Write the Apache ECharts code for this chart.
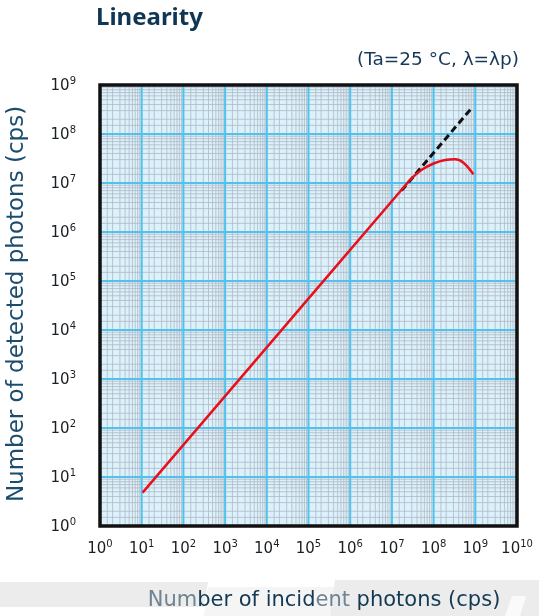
<!DOCTYPE html>
<html>
<head>
<meta charset="utf-8">
<script src="https://cdn.jsdelivr.net/npm/echarts@6/dist/echarts.min.js"></script>
<style>
html,body{margin:0;padding:0;background:#fff;}
#chart{width:539px;height:616px;}
</style>
</head>
<body>
<div id="chart"></div>
<script>
// ---- data ----
const xTickExponents = [0,1,2,3,4,5,6,7,8,9,10];
const yTickExponents = [0,1,2,3,4,5,6,7,8,9];
// detected photons vs incident photons (cps), red curve
const incidentRed = [10.5, 1.9e7, 3.0e7, 5.2e7, 1.0e8, 1.9e8, 3.3e8, 5.2e8, 9.0e8];
const detectedRed = [4.8, 8.1e6, 1.26e7, 1.86e7, 2.5e7, 2.95e7, 3.05e7, 2.6e7, 1.5e7];
// ideal linear extrapolation, dashed black
const incidentIdeal = [1.7e7, 8.7e8];
const detectedIdeal = [7.0e6, 3.6e8];
// minor grid multipliers per decade
const minorSteps = [1.5, 2, 3, 4, 5, 6, 7, 8, 9];

const powLabel = v => '{b|10}{s|' + Math.round(Math.log10(v)) + '}';
const labelRich = {
  b: {fontFamily: "'DejaVu Sans', sans-serif", fontSize: 15, color: '#1a1f24', lineHeight: 18, verticalAlign: 'bottom'},
  s: {fontFamily: "'DejaVu Sans', sans-serif", fontSize: 10, color: '#1a1f24', lineHeight: 18, verticalAlign: 'top', padding: [0, 0, 7, 0]}
};

// grid-line items: [x, y, kind]  kind 0=v minor,1=h minor,2=v major,3=h major,4=frame
const gridItems = [];
xTickExponents.forEach(e => {
  if (e < 10) minorSteps.forEach(m => gridItems.push([m * Math.pow(10, e), 10, 0]));
});
yTickExponents.forEach(e => {
  if (e < 9) minorSteps.forEach(m => gridItems.push([10, m * Math.pow(10, e), 1]));
});
xTickExponents.forEach(e => gridItems.push([Math.pow(10, e), 10, 2]));
yTickExponents.forEach(e => gridItems.push([10, Math.pow(10, e), 3]));
gridItems.push([10, 10, 4]);

const navy = '#0f3655';

const chart = echarts.init(document.getElementById('chart'), null, {renderer: 'canvas'});
chart.setOption({
  animation: false,
  backgroundColor: '#ffffff',
  graphic: [
    {type: 'polygon', z: -10, shape: {points: [[0,582],[208,582],[204,607],[0,607]]}, style: {fill: '#ececec'}},
    {type: 'polygon', z: -10, shape: {points: [[208,587],[335,587],[330,616],[204,616]]}, style: {fill: '#f5f5f5'}},
    {type: 'polygon', z: -10, shape: {points: [[335,580],[539,580],[539,616],[330,616]]}, style: {fill: '#ececec'}},
    {type: 'polygon', z: -9, shape: {points: [[512,596],[526,596],[520,616],[505,616]]}, style: {fill: '#fafafa'}},
    {type: 'text', x: 96, y: 18,
     style: {text: 'Linearity', fontFamily: "'Noto Sans', sans-serif", fontSize: 24, fontWeight: 'bold',
             fill: navy, align: 'left', verticalAlign: 'middle'}},
    {type: 'text', x: 519, y: 60,
     style: {text: '(Ta=25 °C, λ=λp)', fontFamily: "'DejaVu Sans', sans-serif", fontSize: 18.5,
             fill: '#16395a', align: 'right', verticalAlign: 'middle'}},
    {type: 'text', x: 17, y: 304, rotation: Math.PI / 2,
     style: {text: 'Number of detected photons (cps)', fontFamily: "'DejaVu Sans', sans-serif",
             fontSize: 23, fill: '#1d4d6e', align: 'center', verticalAlign: 'middle'}},
    {type: 'text', x: 324, y: 601,
     style: {text: '{g|Num}{d|ber of incid}{g|ent}{d| photons (cps)}', align: 'center', verticalAlign: 'middle',
       rich: {
         g: {fontFamily: "'DejaVu Sans', sans-serif", fontSize: 21, fill: '#6f8391'},
         d: {fontFamily: "'DejaVu Sans', sans-serif", fontSize: 21, fill: '#133a55'}
       }}}
  ],
  grid: {left: 100, right: 22, top: 85, bottom: 90, show: true, backgroundColor: '#dbf1fb', borderWidth: 0},
  xAxis: {
    type: 'log', logBase: 10, min: 1, max: 1e10, interval: 1,
    axisLine: {show: false}, axisTick: {show: false}, splitLine: {show: false},
    axisLabel: {formatter: powLabel, interval: 0, hideOverlap: false, margin: 13, rich: labelRich}
  },
  yAxis: {
    type: 'log', logBase: 10, min: 1, max: 1e9, interval: 1,
    axisLine: {show: false}, axisTick: {show: false}, splitLine: {show: false},
    axisLabel: {formatter: powLabel, interval: 0, hideOverlap: false, margin: 24, rich: labelRich}
  },
  series: [
    {
      type: 'custom', silent: true, z: 1, clip: false,
      encode: {x: 0, y: 1},
      data: gridItems,
      renderItem: function (params, api) {
        const cs = params.coordSys;
        const kind = api.value(2);
        if (kind === 4) {
          return {type: 'rect', z2: 10, shape: {x: cs.x, y: cs.y, width: cs.width, height: cs.height},
                  style: {fill: null, stroke: '#111111', lineWidth: 3.5}};
        }
        const major = kind >= 2;
        const style = major ? {stroke: '#52c1ec', lineWidth: 2} : {stroke: '#b1b9c4', lineWidth: 0.8};
        if (kind === 0 || kind === 2) {
          const x = api.coord([api.value(0), 1])[0];
          return {type: 'line', z2: major ? 2 : 1, shape: {x1: x, y1: cs.y, x2: x, y2: cs.y + cs.height}, style: style};
        }
        const y = api.coord([1, api.value(1)])[1];
        return {type: 'line', z2: major ? 2 : 1, shape: {x1: cs.x, y1: y, x2: cs.x + cs.width, y2: y}, style: style};
      }
    },
    {
      type: 'line', z: 3, symbol: 'none', smooth: 0.4,
      data: incidentIdeal.map((x, i) => [x, detectedIdeal[i]]),
      lineStyle: {color: '#111111', width: 3, type: [7, 4]}
    },
    {
      type: 'line', z: 4, symbol: 'none', smooth: 0.4,
      data: incidentRed.map((x, i) => [x, detectedRed[i]]),
      lineStyle: {color: '#e8101c', width: 2.5}
    }
  ]
});
</script>
</body>
</html>
